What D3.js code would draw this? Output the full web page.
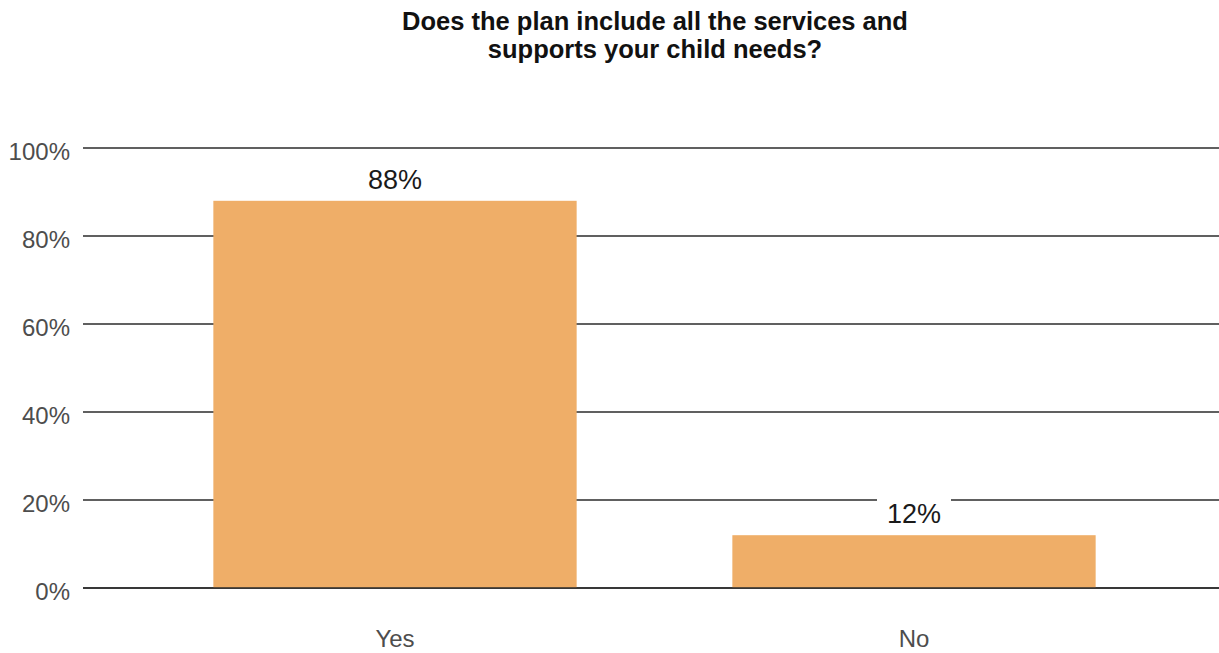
<!DOCTYPE html>
<html><head><meta charset="utf-8">
<script src="https://cdn.jsdelivr.net/npm/d3@7"></script>
<style>body{margin:0;background:#fff}svg{display:block}</style>
</head><body>
<svg id="c" width="1219" height="653"></svg>
<script>
const categories = ["Yes", "No"];
const values = [88, 12];
const labels = ["88%", "12%"];
const yTicks = [0, 20, 40, 60, 80, 100];
const titleLines = ["Does the plan include all the services and", "supports your child needs?"];

const svg = d3.select("#c");
const font = "'Liberation Sans', Arial, sans-serif";
const x = d3.scaleBand().domain(categories).range([83.6, 1225.4]).paddingInner(0.3).paddingOuter(0.25);
const y = d3.scaleLinear().domain([0, 100]).range([588, 148]);

// gridlines
svg.append("g").selectAll("line").data(yTicks).join("line")
  .attr("x1", 83).attr("x2", 1219)
  .attr("y1", d => y(d)).attr("y2", d => y(d))
  .attr("stroke", "#2b2b2b").attr("stroke-width", 1.6);

// bars
svg.append("g").selectAll("rect").data(values).join("rect")
  .attr("x", (d, i) => x(categories[i])).attr("width", x.bandwidth())
  .attr("y", d => y(d)).attr("height", d => y(0) - y(d))
  .attr("fill", "#EFAE68");

// baseline
svg.append("line").attr("x1", 83).attr("x2", 1219).attr("y1", y(0)).attr("y2", y(0))
  .attr("stroke", "#2b2b2b").attr("stroke-width", 1.6);

// y axis labels
svg.append("g").selectAll("text").data(yTicks).join("text")
  .attr("x", 70).attr("y", d => y(d) + 12)
  .attr("text-anchor", "end").attr("font-family", font).attr("font-size", 24)
  .attr("fill", "#4d4d4d").text(d => d + "%");

// x axis labels
svg.append("g").selectAll("text").data(categories).join("text")
  .attr("x", d => x(d) + x.bandwidth() / 2).attr("y", 647)
  .attr("text-anchor", "middle").attr("font-family", font).attr("font-size", 24)
  .attr("fill", "#4d4d4d").text(d => d);

// value labels with white background
const lg = svg.append("g").selectAll("g").data(values).join("g");
lg.append("rect")
  .attr("x", (d, i) => x(categories[i]) + x.bandwidth() / 2 - 37)
  .attr("y", d => y(d) - 41).attr("width", 74).attr("height", 37)
  .attr("fill", "#fff");
lg.append("text")
  .attr("x", (d, i) => x(categories[i]) + x.bandwidth() / 2)
  .attr("y", d => y(d) - 12)
  .attr("text-anchor", "middle").attr("font-family", font).attr("font-size", 27)
  .attr("fill", "#1a1a1a").text((d, i) => labels[i]);

// title
svg.append("g").selectAll("text").data(titleLines).join("text")
  .attr("x", 655).attr("y", (d, i) => 30 + i * 28)
  .attr("text-anchor", "middle").attr("font-family", font).attr("font-weight", "bold")
  .attr("font-size", 25.5).attr("fill", "#111").text(d => d);
</script>
</body></html>
